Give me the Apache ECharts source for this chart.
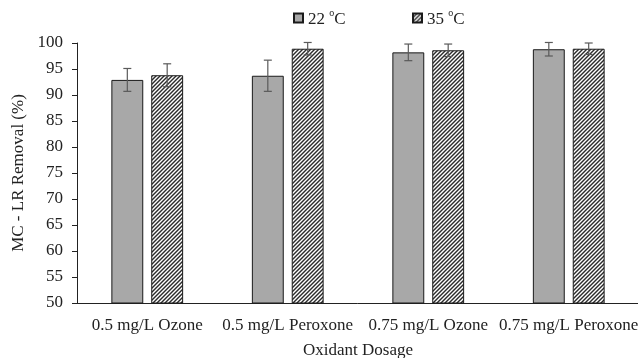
<!DOCTYPE html>
<html>
<head>
<meta charset="utf-8">
<script src="https://cdn.jsdelivr.net/npm/echarts@6/dist/echarts.min.js"></script>
<style>
html,body{margin:0;padding:0;background:#fff;}
#chart{width:638px;height:358px;}
</style>
</head>
<body>
<div id="chart"></div>
<script>
const categories = ['0.5 mg/L Ozone', '0.5 mg/L Peroxone', '0.75 mg/L Ozone', '0.75 mg/L Peroxone'];
const removal22 = [92.9, 93.7, 98.2, 98.8];
const removal35 = [93.8, 98.9, 98.6, 98.9];
const err22 = [2.2, 3.0, 1.6, 1.3];
const err35 = [2.2, 1.2, 1.2, 1.1];
const seriesNames = ['22 °C', '35 °C'];
const yTicks = {min: 50, max: 100, interval: 5};

const FONT = '"Liberation Serif", "Times New Roman", serif';
const FS = 17;

// hatch pattern
const pc = document.createElement('canvas');
pc.width = 4; pc.height = 4;
const ctx = pc.getContext('2d');
ctx.fillStyle = '#ffffff';
ctx.fillRect(0, 0, 4, 4);
ctx.strokeStyle = '#2b2b2b';
ctx.lineWidth = 1.4;
[[-2, 2, 2, -2], [0, 4, 4, 0], [2, 6, 6, 2]].forEach(function (l) {
  ctx.beginPath(); ctx.moveTo(l[0], l[1]); ctx.lineTo(l[2], l[3]); ctx.stroke();
});

const chart = echarts.init(document.getElementById('chart'), null, {renderer: 'canvas'});

const BAR_FRAC = 0.227;
const GAP_FRAC = 0.25;
const OFFSET = (BAR_FRAC + BAR_FRAC * GAP_FRAC) / 2;

function errData(vals, errs) {
  return vals.map(function (v, i) { return [i, v - errs[i], v + errs[i]]; });
}
function errSeries(vals, errs, sign) {
  return {
    type: 'custom',
    z: 5,
    silent: true,
    data: errData(vals, errs),
    encode: {x: 0, y: [1, 2]},
    renderItem: function (params, api) {
      const x = api.value(0);
      const lo = api.coord([x, api.value(1)]);
      const hi = api.coord([x, api.value(2)]);
      const w = api.size([1, 0])[0];
      const cx = lo[0] + sign * OFFSET * w;
      const cap = 4;
      const st = {stroke: '#5a5a5a', lineWidth: 1.2};
      return {
        type: 'group',
        children: [
          {type: 'line', shape: {x1: cx, y1: hi[1], x2: cx, y2: lo[1]}, style: st},
          {type: 'line', shape: {x1: cx - cap, y1: hi[1], x2: cx + cap, y2: hi[1]}, style: st},
          {type: 'line', shape: {x1: cx - cap, y1: lo[1], x2: cx + cap, y2: lo[1]}, style: st}
        ]
      };
    }
  };
}

const legendText = {
  fontFamily: FONT, fontSize: FS, color: '#222',
  rich: {
    n: {fontFamily: FONT, fontSize: FS, color: '#222', lineHeight: 20, verticalAlign: 'bottom'},
    s: {fontFamily: FONT, fontSize: 10, color: '#222', lineHeight: 20, verticalAlign: 'top', padding: [0, 0, 9, 0]}
  }
};
function fmtLegend(name) {
  const p = name.split('°');
  return '{n|' + p[0] + '}{s|o}{n|' + p[1] + '}';
}

chart.setOption({
  animation: false,
  backgroundColor: '#ffffff',
  textStyle: {fontFamily: FONT},
  legend: [
    {data: [seriesNames[0]], left: 293, top: 8, padding: 0, itemWidth: 9, itemHeight: 9, itemGap: 2,
     icon: 'rect', textStyle: legendText, formatter: fmtLegend},
    {data: [seriesNames[1]], left: 412, top: 8, padding: 0, itemWidth: 9, itemHeight: 9, itemGap: 2,
     icon: 'rect', textStyle: legendText, formatter: fmtLegend}
  ],
  grid: {left: 77, right: -1, top: 43, bottom: 55, containLabel: false, outerBoundsMode: 'none'},
  xAxis: {
    type: 'category',
    data: categories,
    name: 'Oxidant Dosage',
    nameLocation: 'middle',
    nameGap: 39,
    nameTextStyle: {fontFamily: FONT, fontSize: FS, color: '#222'},
    axisLine: {lineStyle: {color: '#222', width: 1}},
    axisTick: {alignWithLabel: true, length: 5, lineStyle: {color: '#222'}},
    axisLabel: {fontFamily: FONT, fontSize: FS, color: '#222', margin: 14, interval: 0}
  },
  yAxis: {
    type: 'value',
    min: yTicks.min, max: yTicks.max, interval: yTicks.interval,
    name: 'MC - LR Removal (%)',
    nameLocation: 'middle',
    nameGap: 46,
    nameTextStyle: {fontFamily: FONT, fontSize: FS, color: '#222'},
    axisLine: {show: true, lineStyle: {color: '#222', width: 1}},
    axisTick: {show: true, length: 5, lineStyle: {color: '#222'}},
    axisLabel: {fontFamily: FONT, fontSize: FS, color: '#222', margin: 14},
    splitLine: {show: false}
  },
  series: [
    {
      name: seriesNames[0], type: 'bar', data: removal22,
      barWidth: (BAR_FRAC * 100) + '%', barGap: (GAP_FRAC * 100) + '%',
      itemStyle: {color: '#a8a8a8', borderColor: '#1a1a1a', borderWidth: 1}
    },
    {
      name: seriesNames[1], type: 'bar', data: removal35,
      barWidth: (BAR_FRAC * 100) + '%', barGap: (GAP_FRAC * 100) + '%',
      itemStyle: {color: {image: pc, repeat: 'repeat'}, borderColor: '#1a1a1a', borderWidth: 1}
    },
    errSeries(removal22, err22, -1),
    errSeries(removal35, err35, 1)
  ]
});
</script>
</body>
</html>
